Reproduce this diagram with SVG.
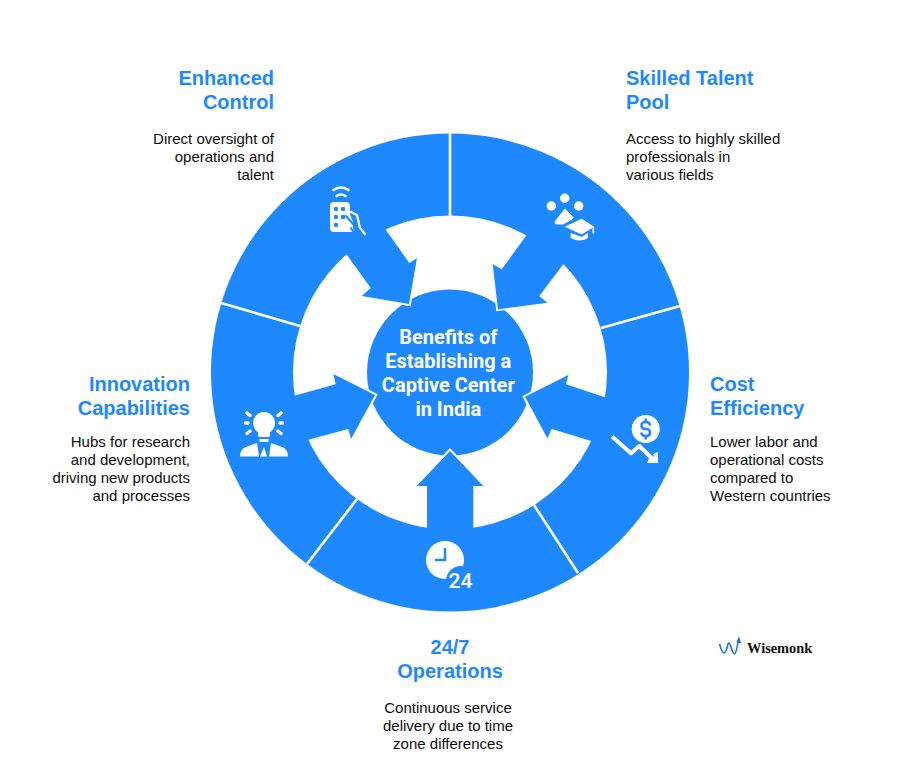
<svg xmlns="http://www.w3.org/2000/svg" width="900" height="783" viewBox="0 0 900 783">
<style>
.t{font-family:"Liberation Sans",Arial,sans-serif;font-weight:700;font-size:20px;fill:#1e88ff}
.b{font-family:"Liberation Sans",Arial,sans-serif;font-size:15px;fill:#0d0d0d}
.c{font-family:Roboto,"Liberation Sans",sans-serif;font-weight:700;font-size:20px;fill:#fff;text-anchor:middle}
.e{text-anchor:end}.m{text-anchor:middle}
.a{fill:#1e88ff}
.o{fill:none;stroke:#fff;stroke-width:4;stroke-linejoin:miter}
.d{stroke:#fff;stroke-width:2.6;fill:none}
.w{fill:#fff}
.wl{fill:none;stroke:#fff;stroke-linecap:round;stroke-linejoin:round}
.bl{fill:none;stroke:#1e88ff;stroke-linecap:round;stroke-linejoin:round}
</style>
<rect width="900" height="783" fill="#fff"/>
<g id="ring">
<circle cx="450" cy="372.5" r="239" fill="#1e88ff"/>
<circle cx="450" cy="372.5" r="157" fill="#fff"/>
</g>
<g id="center-node">
<circle cx="450" cy="372.5" r="83" fill="#1e88ff"/>
<text class="c" x="448.3" y="344">Benefits of</text>
<text class="c" x="448.3" y="368">Establishing a</text>
<text class="c" x="448.3" y="392">Captive Center</text>
<text class="c" x="448.3" y="416">in India</text>
</g>
<g id="connectors">
<path class="d" d="M450 133V216M680 306L601 328M578 573L534 505M307 564L357 499M221 303L300 326"/>
<polyline class="o" points="417,258 409,304 362,296"/>
<polyline class="o" points="493,264 498,309 547,303"/>
<polyline class="o" points="568,375 525,397 547,438"/>
<polyline class="o" points="483,486 450,451 417,486"/>
<polyline class="o" points="333,374 375,395 351,439"/>
<polygon class="a" points="409,304 417,258 409.3,263 381,223 342,248 370.7,288 361.7,296"/>
<polygon class="a" points="498,309.5 492.7,264.3 501.7,269.3 531,229 568,258 539.3,296 547.3,302.7"/>
<polygon class="a" points="525,396.7 568.3,375 566,384.3 613,400 598,443 551.7,429 547.3,438.3"/>
<polygon class="a" points="450,451 483.3,486 473.3,486 473.3,535 427,535 427,486 416.7,486"/>
<polygon class="a" points="375,395 333.3,374 335.7,384.3 286,398 300,442 348.3,429 351,439"/>
</g>
<g id="enhanced-control">
<text class="t e" x="274" y="85">Enhanced</text>
<text class="t e" x="274" y="109">Control</text>
<text class="b e" x="274" y="144">Direct oversight of</text>
<text class="b e" x="274" y="162">operations and</text>
<text class="b e" x="274" y="180">talent</text>
<g id="icon-remote">
<path class="wl" stroke-width="2.6" d="M333.5 190Q341 185 348.5 190M336.5 196Q341 193 345.5 196"/>
<path class="w" d="M334 202H346Q350 202 350 206V214L353 222V228L354 232H334Q330 232 330 228V206Q330 202 334 202Z"/>
<path class="wl" stroke-width="2.2" d="M351 212L357 215L360 228L365 234"/>
<path class="bl" stroke-width="2" d="M346 216L353 224M351 228L354 233"/>
<g fill="#1e88ff"><rect x="334" y="207" width="4" height="4" rx="1"/><rect x="341" y="207" width="4" height="4" rx="1"/><rect x="334" y="215" width="4" height="4" rx="1"/><rect x="341" y="215" width="4" height="4" rx="1"/><rect x="334" y="223" width="4" height="4" rx="1"/></g>
</g>
</g>
<g id="skilled-talent-pool">
<text class="t" x="626" y="85">Skilled Talent</text>
<text class="t" x="626" y="109">Pool</text>
<text class="b" x="626" y="144">Access to highly skilled</text>
<text class="b" x="626" y="162">professionals in</text>
<text class="b" x="626" y="180">various fields</text>
<g id="icon-talent">
<circle class="w" cx="551.3" cy="206" r="4.7"/><circle class="w" cx="564.7" cy="198.3" r="4.7"/><circle class="w" cx="578.7" cy="206" r="4.7"/>
<path class="w" d="M565 209L555.5 221Q554 224 557 224L563 224L572 219L573 217.5Z" stroke="#fff" stroke-linejoin="round"/>
<path class="w" d="M565.7 226.7L581.7 219.3L593.3 226.7L581.7 234Z" stroke="#fff" stroke-width="1" stroke-linejoin="round"/>
<path class="w" d="M570.7 233L581.7 237L588 233V238Q580 243 570.7 238Z"/>
<path class="wl" stroke-width="1.6" d="M593.3 227V233"/>
</g>
</g>
<g id="cost-efficiency">
<text class="t" x="710" y="391">Cost</text>
<text class="t" x="710" y="415">Efficiency</text>
<text class="b" x="710" y="447">Lower labor and</text>
<text class="b" x="710" y="465">operational costs</text>
<text class="b" x="710" y="483">compared to</text>
<text class="b" x="710" y="501">Western countries</text>
<g id="icon-cost">
<circle class="w" cx="645.7" cy="429" r="14"/>
<path class="bl" stroke-width="2.6" d="M650 424.5Q649 422 645.7 422Q641.5 422 641.5 425.5Q641.5 429 645.7 429Q650 429 650 432.5Q650 436 645.7 436Q642.5 436 641.5 433.5M645.7 419.5V421M645.7 437V438.5"/>
<path class="wl" stroke-width="4" d="M613.3 437.7L631 453.3L639.3 446L653 459.5"/>
<path class="w" d="M658 452V463H647L649 458.5H653.5V454Z"/>
</g>
</g>
<g id="operations">
<text class="t m" x="450" y="654">24/7</text>
<text class="t m" x="450" y="678">Operations</text>
<text class="b m" x="448" y="713">Continuous service</text>
<text class="b m" x="448" y="731">delivery due to time</text>
<text class="b m" x="448" y="749">zone differences</text>
<g id="icon-clock">
<circle class="w" cx="445" cy="560" r="19"/>
<circle class="a" cx="461" cy="581" r="15"/>
<path class="bl" stroke-width="2.5" d="M445 549V560H436"/>
<text x="448.5" y="588" font-family="Roboto,'Liberation Sans',sans-serif" font-weight="500" font-size="21" fill="#fff">24</text>
</g>
</g>
<g id="innovation-capabilities">
<text class="t e" x="190" y="391">Innovation</text>
<text class="t e" x="190" y="415">Capabilities</text>
<text class="b e" x="190" y="447">Hubs for research</text>
<text class="b e" x="190" y="465">and development,</text>
<text class="b e" x="190" y="483">driving new products</text>
<text class="b e" x="190" y="501">and processes</text>
<g id="icon-innovation">
<circle class="w" cx="264" cy="423" r="11"/>
<rect class="w" x="258" y="428" width="12" height="9" rx="2"/>
<rect class="w" x="259.5" y="439" width="9" height="3"/>
<path class="wl" stroke-width="3.4" d="M247 413L250 415.5M281 413L278 415.5M245.5 423H248M282.5 423H280M247 433.5L250 431M281 433.5L278 431"/>
<path class="w" d="M240 456.5Q240 449 246 447L257 443L259 456.5ZM288 456.5Q288 449 282 447L271 443L269 456.5ZM264 447L267 456.5H260Z"/>
</g>
</g>
<g id="wisemonk-logo">
<path fill="none" stroke="#1e6fe8" stroke-width="1.6" d="M719.5 644Q722 653 724 653Q726 653 728 644Q729 641 731 647Q733 654 734.5 654Q736 654 738.5 640"/>
<path fill="#1e6fe8" d="M739 636L741 643H736.5Z"/>
<text x="747" y="653" font-family="'Liberation Serif',serif" font-weight="700" font-size="14.4" fill="#111">Wisemonk</text>
</g>
</svg>
